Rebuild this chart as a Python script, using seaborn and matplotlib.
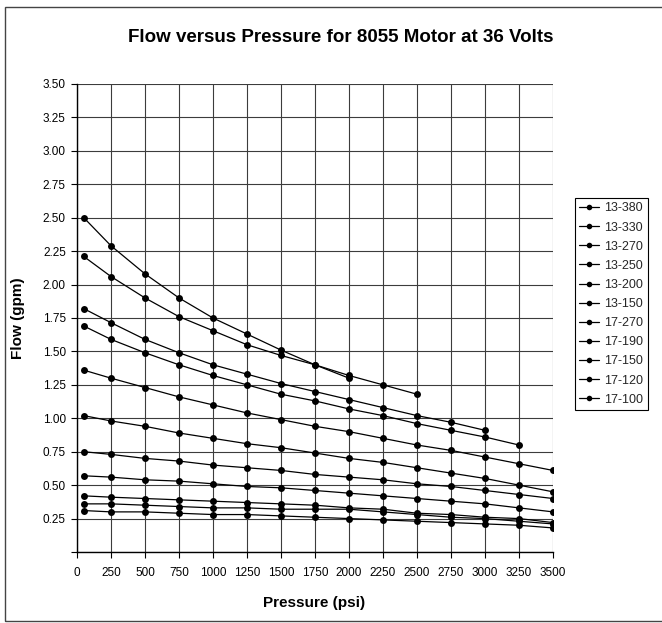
import numpy as np
import pandas as pd
import matplotlib
matplotlib.use("Agg")
import matplotlib.pyplot as plt
from matplotlib.patches import Rectangle
from matplotlib.ticker import FuncFormatter
import seaborn as sns

# Pressure settings (psi) at which flow was measured
pressure = [50, 250, 500, 750, 1000, 1250, 1500, 1750, 2000,
            2250, 2500, 2750, 3000, 3250, 3500]

series_names = ["13-380", "13-330", "13-270", "13-250", "13-200", "13-150",
                "17-270", "17-190", "17-150", "17-120", "17-100"]

# Flow (gpm) per pump; shorter lists stop where the pump could not go further
flow_13_380 = [2.50, 2.29, 2.08, 1.90, 1.75, 1.63, 1.51, 1.40, 1.32, 1.25, 1.18]
flow_13_330 = [2.21, 2.06, 1.90, 1.76, 1.655, 1.55, 1.47, 1.40, 1.30]
flow_13_270 = [1.82, 1.715, 1.59, 1.49, 1.40, 1.33, 1.26, 1.20, 1.14, 1.08,
               1.02, 0.97, 0.91]
flow_13_250 = [1.69, 1.59, 1.49, 1.40, 1.32, 1.25, 1.18, 1.13, 1.07, 1.02,
               0.96, 0.91, 0.86, 0.80]
flow_13_200 = [1.36, 1.30, 1.23, 1.16, 1.10, 1.04, 0.99, 0.94, 0.90, 0.85,
               0.80, 0.76, 0.71, 0.66, 0.61]
flow_13_150 = [1.02, 0.98, 0.94, 0.89, 0.85, 0.81, 0.78, 0.74, 0.70, 0.67,
               0.63, 0.59, 0.55, 0.50, 0.45]
flow_17_270 = [0.75, 0.73, 0.70, 0.68, 0.65, 0.63, 0.61, 0.58, 0.56, 0.54,
               0.51, 0.49, 0.46, 0.43, 0.40]
flow_17_190 = [0.57, 0.56, 0.54, 0.53, 0.51, 0.49, 0.48, 0.46, 0.44, 0.42,
               0.40, 0.38, 0.36, 0.33, 0.30]
flow_17_150 = [0.42, 0.41, 0.40, 0.39, 0.38, 0.37, 0.36, 0.35, 0.33, 0.32,
               0.29, 0.28, 0.26, 0.25, 0.22]
flow_17_120 = [0.36, 0.36, 0.35, 0.34, 0.33, 0.33, 0.32, 0.32, 0.32, 0.30,
               0.28, 0.26, 0.25, 0.23, 0.21]
flow_17_100 = [0.31, 0.30, 0.30, 0.29, 0.28, 0.28, 0.27, 0.26, 0.25, 0.24,
               0.23, 0.22, 0.21, 0.20, 0.18]

flows = [flow_13_380, flow_13_330, flow_13_270, flow_13_250, flow_13_200,
         flow_13_150, flow_17_270, flow_17_190, flow_17_150, flow_17_120,
         flow_17_100]

x_ticks = list(range(0, 3501, 250))
y_ticks = [i * 0.25 for i in range(15)]

rows = []
for name, vals in zip(series_names, flows):
    for p, f in zip(pressure, vals):
        rows.append({"Pressure": p, "Flow": f, "Pump": name})
df = pd.DataFrame(rows)

sns.set_theme(style="white")
plt.rcParams["font.family"] = ["Liberation Sans", "DejaVu Sans"]

W, H = 662, 623
fig = plt.figure(figsize=(W / 100, H / 100), dpi=100)
ax = fig.add_axes([77 / W, 1 - 552 / H, (553 - 77) / W, (552 - 84) / H])

sns.lineplot(data=df, x="Pressure", y="Flow", hue="Pump",
             hue_order=series_names,
             palette={n: "black" for n in series_names},
             marker="o", markersize=5, markeredgewidth=0,
             linewidth=0.9, estimator=None, sort=True, ax=ax)

ax.set_xlim(0, 3500)
ax.set_ylim(0, 3.5)
ax.set_xticks(x_ticks)
ax.set_yticks(y_ticks)
ax.yaxis.set_major_formatter(FuncFormatter(lambda v, _: "" if v == 0 else f"{v:.2f}"))
ax.xaxis.set_major_formatter(FuncFormatter(lambda v, _: f"{int(v)}"))

ax.grid(True, color="#3c3c3c", linewidth=0.8)
ax.set_axisbelow(True)
for side in ("top", "right"):
    ax.spines[side].set_visible(False)
for side in ("left", "bottom"):
    ax.spines[side].set_color("black")
    ax.spines[side].set_linewidth(1.0)

ax.tick_params(axis="both", which="major", direction="out", length=4,
               width=0.8, color="black", labelsize=8.5, labelcolor="black",
               left=True, bottom=True)
ax.tick_params(axis="y", pad=4)
ax.tick_params(axis="x", pad=7)

ax.set_xlabel("Pressure (psi)", fontsize=11, fontweight="bold",
              color="black", va="center")
ax.set_ylabel("Flow (gpm)", fontsize=11, fontweight="bold",
              color="black", va="center")
ax.xaxis.set_label_coords((314 - 77) / 476, (552 - 603) / 468)
ax.yaxis.set_label_coords((18 - 77) / 476, 0.5)

fig.text(341 / W, 1 - 37 / H, "Flow versus Pressure for 8055 Motor at 36 Volts",
         ha="center", va="center", fontsize=13.5, fontweight="bold", color="black")

sns.move_legend(ax, loc="upper left",
                bbox_to_anchor=(575 / W, 1 - 198 / H),
                bbox_transform=fig.transFigure,
                title=None, frameon=True, fancybox=False, shadow=False,
                fontsize=9, handlelength=1.6, handletextpad=0.4,
                labelspacing=0.57, borderpad=0.35, borderaxespad=0,
                edgecolor="black", framealpha=1, markerscale=0.8)
leg = ax.get_legend()
leg.get_frame().set_linewidth(0.8)

# chart-area border
fig.add_artist(Rectangle((5 / W, 2 / H), 1.2, 1 - 9 / H,
                         transform=fig.transFigure, fill=False,
                         edgecolor="#444444", linewidth=1.0))

fig.savefig("out.png", dpi=100, facecolor="white")
